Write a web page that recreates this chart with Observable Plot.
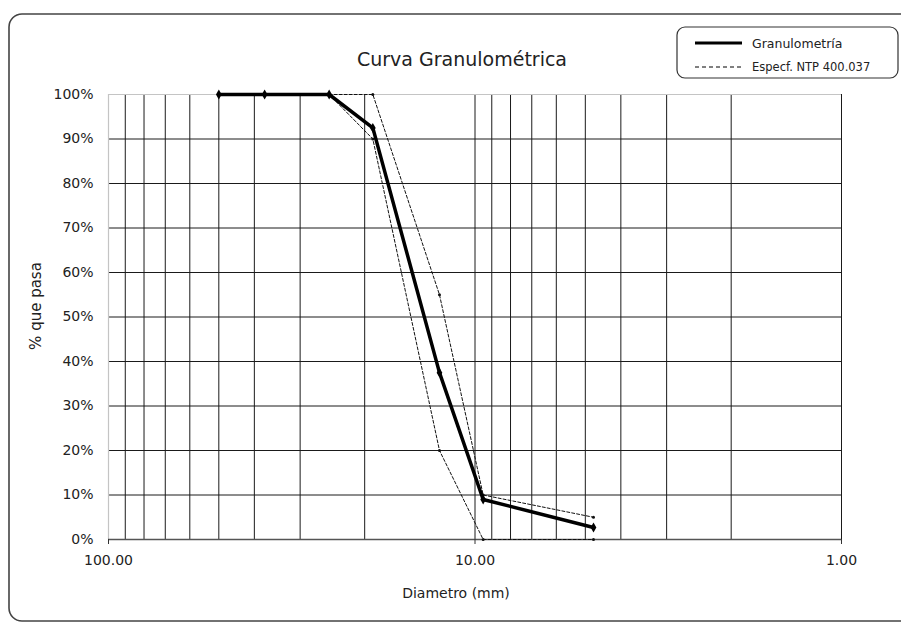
<!DOCTYPE html>
<html><head><meta charset="utf-8">
<script src="https://cdn.jsdelivr.net/npm/d3@7"></script>
<script src="https://cdn.jsdelivr.net/npm/@observablehq/plot@0.6"></script>
<style>
body{margin:0;background:#fff;}
#chart{position:relative;width:901px;height:622px;overflow:hidden;background:#fff}
</style>
</head><body><div id="chart"></div>
<script>
// Granulometría (muestra)
const diametros = [50, 37.5, 25, 19, 12.5, 9.5, 4.75];
const pasa = [100, 100, 100, 92.5, 37.5, 9, 2.7];
// Especificación NTP 400.037
const specDiam = [25, 19, 12.5, 9.5, 4.75];
const specSup = [100, 100, 55, 10, 5];
const specInf = [100, 90, 20, 0, 0];
// Ejes
const xGrid = [100, 90, 80, 70, 60, 50, 40, 30, 20, 10, 9, 8, 7, 6, 5, 4, 3, 2, 1];
const xTicks = [100, 10, 1];
const yTicks = [0, 10, 20, 30, 40, 50, 60, 70, 80, 90, 100];
const titulo = "Curva Granulométrica";
const xTitulo = "Diametro (mm)";
const yTitulo = "% que pasa";
const leyenda = ["Granulometría", "Especf. NTP 400.037"];

const granulo = diametros.map((d, i) => ({d, p: pasa[i]}));
const sup = specDiam.map((d, i) => ({d, p: specSup[i]}));
const inf = specDiam.map((d, i) => ({d, p: specInf[i]}));

const FONT = "DejaVu Sans";
const W = 901, H = 622;
const plot = Plot.plot({
  width: W, height: H,
  marginLeft: 108, marginRight: 60, marginTop: 94, marginBottom: 83,
  style: {fontFamily: FONT, fontSize: "14px", color: "#222", background: "white"},
  x: {type: "log", domain: [100, 1], label: null},
  y: {domain: [0, 100], label: null},
  marks: [
    Plot.ruleX(xGrid.filter(d => d !== 100), {stroke: "#1a1a1a", strokeWidth: 1}),
    Plot.ruleY(yTicks.filter(d => d !== 0 && d !== 100), {stroke: "#1a1a1a", strokeWidth: 1}),
    Plot.ruleX([100], {stroke: "#c4c4c4", strokeWidth: 1.2}),
    Plot.ruleY([100], {stroke: "#c4c4c4", strokeWidth: 1.2}),
    Plot.ruleY([0], {stroke: "#555", strokeWidth: 1.5}),
    Plot.axisX(xTicks, {tickFormat: d => d.toFixed(2), tickSize: 5, tickPadding: 11, fontSize: 14, stroke: "#333", label: null}),
    Plot.axisY(yTicks, {tickFormat: d => d + "%", tickSize: 0, tickPadding: 15, fontSize: 14, label: null}),
    Plot.line(sup, {x: "d", y: "p", stroke: "#111", strokeWidth: 1, strokeDasharray: "3,2"}),
    Plot.line(inf, {x: "d", y: "p", stroke: "#111", strokeWidth: 1, strokeDasharray: "3,2"}),
    Plot.dot(sup.concat(inf), {x: "d", y: "p", r: 1.5, fill: "#111"}),
    Plot.line(granulo, {x: "d", y: "p", stroke: "#000", strokeWidth: 3.5}),
    Plot.dot(granulo, {x: "d", y: "p", symbol: "diamond", r: 3, fill: "#000"})
  ]
});
document.getElementById("chart").appendChild(plot);

const svg = d3.select(plot);
// chart border (rounded, cropped at right/bottom)
svg.insert("path", ":first-child")
  .attr("d", "M 960 14 H 22 A 13 13 0 0 0 9 27 V 608 A 13 13 0 0 0 22 621 H 960")
  .attr("fill", "none").attr("stroke", "#444").attr("stroke-width", 1.6);

svg.append("text").attr("x", 462).attr("y", 59).attr("text-anchor", "middle")
  .attr("dominant-baseline", "central").attr("font-family", FONT).attr("font-size", 19)
  .attr("fill", "#222").text(titulo);
svg.append("text").attr("x", 456).attr("y", 593).attr("text-anchor", "middle")
  .attr("dominant-baseline", "central").attr("font-family", FONT).attr("font-size", 14)
  .attr("fill", "#222").text(xTitulo);
svg.append("text").attr("transform", "translate(36,306) rotate(-90)").attr("text-anchor", "middle")
  .attr("dominant-baseline", "central").attr("font-family", FONT).attr("font-size", 15)
  .attr("fill", "#222").text(yTitulo);

// legend
const lg = svg.append("g");
lg.append("rect").attr("x", 677).attr("y", 27).attr("width", 221).attr("height", 51).attr("rx", 8)
  .attr("fill", "white").attr("stroke", "#333").attr("stroke-width", 1.2);
lg.append("line").attr("x1", 695).attr("x2", 742).attr("y1", 43).attr("y2", 43)
  .attr("stroke", "#000").attr("stroke-width", 2.8);
lg.append("line").attr("x1", 695).attr("x2", 742).attr("y1", 67).attr("y2", 67)
  .attr("stroke", "#000").attr("stroke-width", 1).attr("stroke-dasharray", "4,3");
lg.selectAll("text.lg").data(leyenda).join("text")
  .attr("x", 752).attr("y", (d, i) => 43 + i * 24).attr("dominant-baseline", "central")
  .attr("text-anchor", "start")
  .attr("font-family", FONT).attr("font-size", (d, i) => i === 0 ? 12.5 : 11.5)
  .attr("fill", "#222").text(d => d);
</script>
</body></html>
